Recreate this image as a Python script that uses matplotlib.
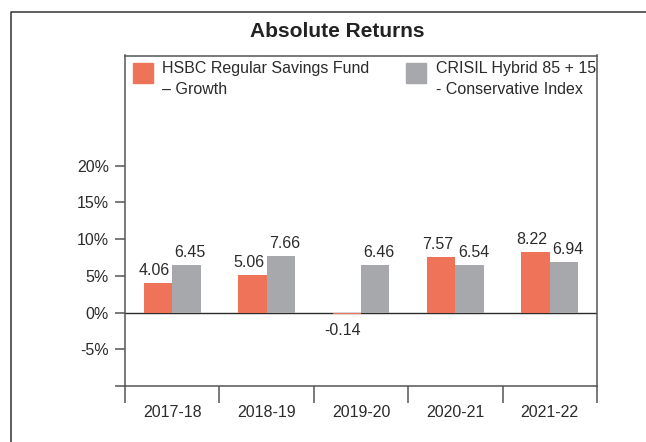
import numpy as np
import matplotlib
matplotlib.use('agg')
from matplotlib import pyplot as plt
from matplotlib.lines import Line2D
from matplotlib.patches import Rectangle

years   = ['2017-18', '2018-19', '2019-20', '2020-21', '2021-22']
fund    = [4.06, 5.06, -0.14, 7.57, 8.22]
bench   = [6.45, 7.66, 6.46, 6.54, 6.94]
labels  = ['HSBC Regular Savings Fund\n\u2013 Growth', 'CRISIL Hybrid 85 + 15\n- Conservative Index']
yticks  = [-10, -5, 0, 5, 10, 15, 20]
yticklabels = ['', '-5%', '0%', '5%', '10%', '15%', '20%']

colors = ['#EE7359', '#A7A8AC']
ink    = '#2b2b2b'
plt.rcParams['font.family'] = ['Liberation Sans', 'DejaVu Sans']

fig = plt.figure(figsize=(6.46, 4.42), dpi=100, facecolor='w')
ax = fig.add_axes([125/646, 56/442, 472/646, 330.5/442])

x = np.arange(len(years))
w = 0.3
ax.bar(x - w/2, fund, w, color=colors[0], zorder=2)
ax.bar(x + w/2, bench, w, color=colors[1], zorder=2)

# value labels, nudged apart a little like the original
for i in range(len(years)):
    for v, xx, dx in [(fund[i], x[i] - w/2, -4), (bench[i], x[i] + w/2, 4)]:
        if v >= 0:
            ax.annotate('%.2f' % v, (xx, v), xytext=(dx, 5), textcoords='offset pixels',
                        ha='center', va='bottom', fontsize=11.5, color=ink)
        else:
            ax.annotate('%.2f' % v, (xx, v), xytext=(dx, -9), textcoords='offset pixels',
                        ha='center', va='top', fontsize=11.5, color=ink)

ax.axhline(0, color=ink, lw=1.0, zorder=1.5)
ax.set_xlim(-0.5, 4.5)
ax.set_ylim(-10, 35)
ax.set_yticks(yticks)
ax.set_yticklabels(yticklabels)
ax.set_xticks(x)
ax.set_xticklabels(years)
ax.set_xticks(np.arange(-0.5, 5, 1), minor=True)
ax.tick_params(axis='x', which='major', length=0, pad=14, labelsize=11.5, labelcolor=ink)
ax.tick_params(axis='x', which='minor', length=12.5, width=1.1, color='#555555', direction='out')
ax.tick_params(axis='y', length=7.5, width=1.1, color='#555555', pad=4, labelsize=11.5, labelcolor=ink)
for s in ax.spines.values():
    s.set_color('#555555')
    s.set_linewidth(1.1)

# legend drawn by hand so the swatch sits on the first line
tr = ax.transAxes
for lx, tx, c, lab in [(0.017, 0.078, colors[0], labels[0]), (0.595, 0.659, colors[1], labels[1])]:
    ax.add_patch(Rectangle((lx, 0.917), 0.0424, 0.0605, transform=tr, color=c, clip_on=False))
    ax.text(tx, 0.982, lab, transform=tr, ha='left', va='top', fontsize=11.5, color=ink, linespacing=1.45)

fig.text(0.522, 0.928, 'Absolute Returns', ha='center', va='center', fontsize=15,
         fontweight='bold', color='#222222')

# outer frame (left and top edges)
fig.add_artist(Line2D([11/646, 11/646, 1.0], [0.0, 1 - 12/442, 1 - 12/442],
                      transform=fig.transFigure, color='#333333', lw=1.1))

plt.savefig('out.png', dpi=100)
